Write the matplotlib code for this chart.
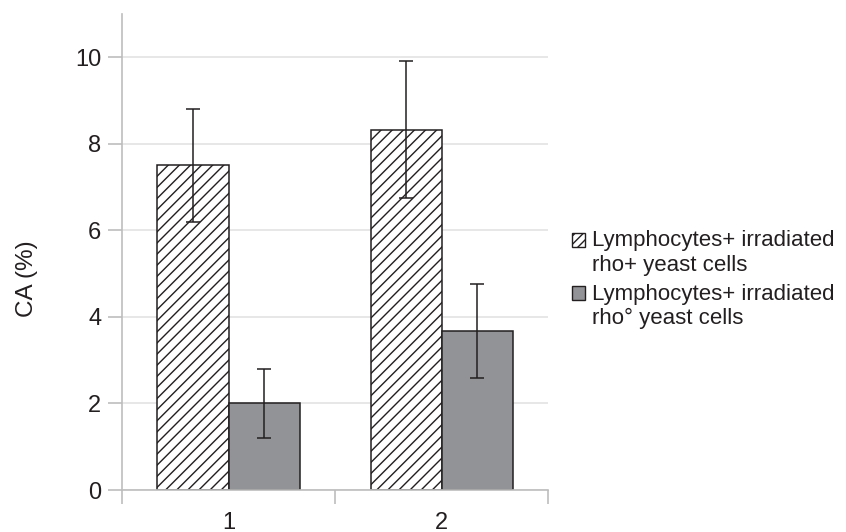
import matplotlib
matplotlib.use("Agg")
import numpy as np
import matplotlib.pyplot as plt
from matplotlib.patches import Patch, Rectangle
from matplotlib.legend_handler import HandlerPatch

plt.rcParams["font.family"] = ["Liberation Sans", "DejaVu Sans"]
plt.rcParams["hatch.linewidth"] = 1.0

# data
groups = ["1", "2"]
rho_plus = [7.5, 8.33]
rho_plus_err = [1.3, 1.59]
rho_zero = [2.0, 3.67]
rho_zero_err = [0.8, 1.09]
labels = ["Lymphocytes+ irradiated\nrho+ yeast cells",
          "Lymphocytes+ irradiated\nrho\u00b0 yeast cells"]

TXT = "#231f20"
GRAY = "#929396"
AXIS = "#bdbdbd"
GRID = "#e3e3e3"
LEG_FS = 16


def top_aligned_box(legend, orig_handle, xdescent, ydescent, width, height, fontsize):
    # legend keys sit next to the first line of the two-line labels
    return Rectangle((-xdescent, -ydescent + 0.6 * fontsize), width, height)


fig = plt.figure(figsize=(8.46, 5.32), dpi=100)
ax = fig.add_axes([0.1442, 0.0789, 0.5036, 0.8948])

x = np.arange(1, len(groups) + 1)
w = 1 / 3
ax.bar(x - w / 2, rho_plus, w, color="white", edgecolor=TXT, hatch="///",
       linewidth=1.1, zorder=2)
ax.bar(x + w / 2, rho_zero, w, color=GRAY, edgecolor=TXT, linewidth=1.1, zorder=2)
ax.errorbar(x - w / 2, rho_plus, yerr=rho_plus_err, fmt="none", ecolor=TXT,
            elinewidth=1.1, capsize=5, capthick=1.1, zorder=3)
ax.errorbar(x + w / 2, rho_zero, yerr=rho_zero_err, fmt="none", ecolor=TXT,
            elinewidth=1.1, capsize=5, capthick=1.1, zorder=3)

ax.set_xlim(0.5, 2.5)
ax.set_ylim(0, 11)
ax.set_yticks(range(0, 11, 2))
ax.set_xticks(x)
ax.set_xticklabels(groups)
ax.set_xticks([0.5, 1.5, 2.5], minor=True)
ax.tick_params(axis="x", which="major", length=0, pad=16, labelsize=17, labelcolor=TXT)
ax.tick_params(axis="x", which="minor", length=10, width=1.2, color=AXIS)
ax.tick_params(axis="y", length=10, width=1.2, color=AXIS, labelsize=17,
               labelcolor=TXT, pad=5)
ax.yaxis.grid(True, color=GRID, linewidth=1.2, zorder=0)
ax.set_axisbelow(True)
for s in ["top", "right"]:
    ax.spines[s].set_visible(False)
for s in ["left", "bottom"]:
    ax.spines[s].set_color(AXIS)
    ax.spines[s].set_linewidth(1.2)

ax.set_ylabel("CA (%)", fontsize=17.5, color=TXT)
ax.yaxis.set_label_coords(-0.196, 0.445)

handles = [Patch(facecolor="white", edgecolor=TXT, hatch="////", linewidth=1.0),
           Patch(facecolor=GRAY, edgecolor=TXT, linewidth=1.0)]
fig.legend(handles, labels, loc="upper left", bbox_to_anchor=(0.676, 0.567),
           frameon=False, fontsize=LEG_FS, handlelength=0.6, handleheight=0.6,
           handletextpad=0.32, labelspacing=0.37, labelcolor=TXT,
           borderaxespad=0, borderpad=0,
           handler_map={Patch: HandlerPatch(patch_func=top_aligned_box)})

fig.savefig("out.png", dpi=100)
